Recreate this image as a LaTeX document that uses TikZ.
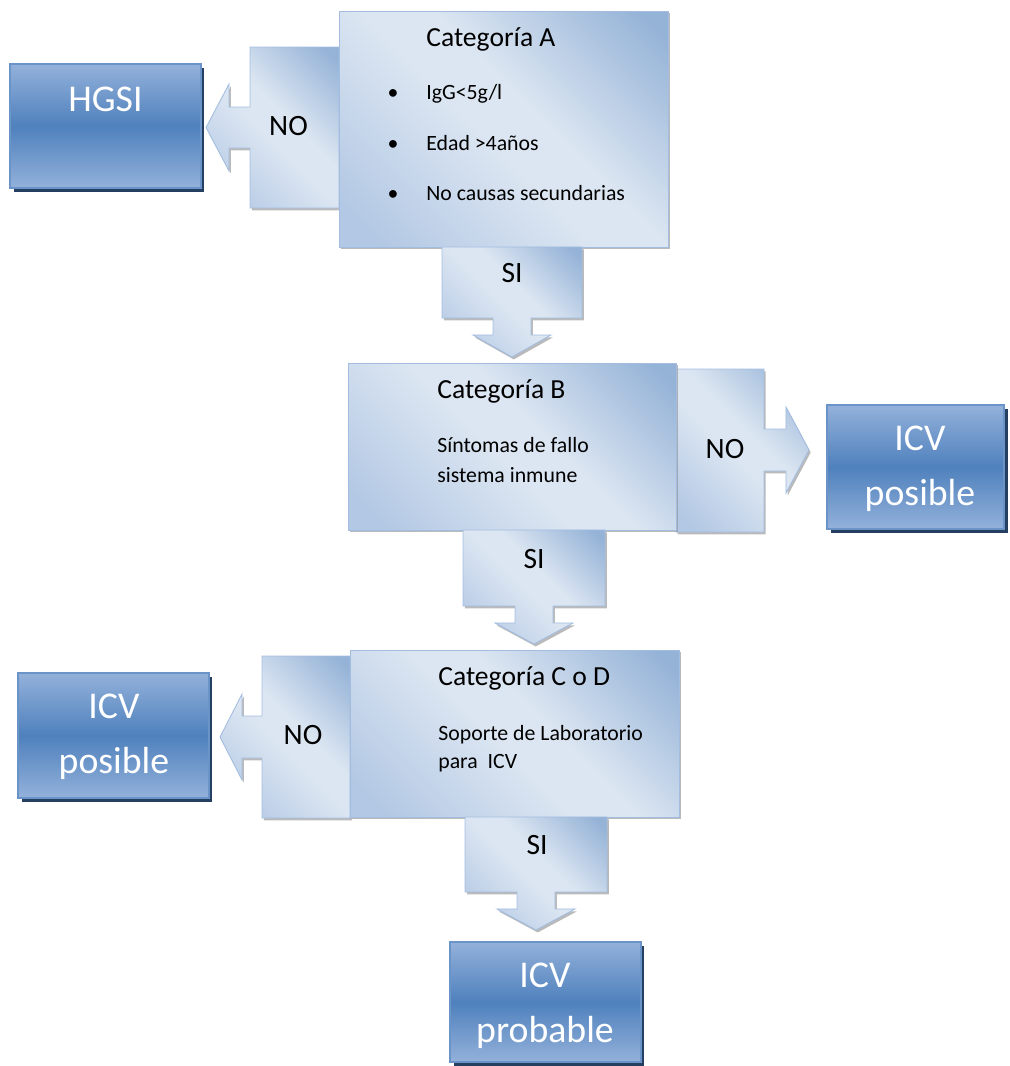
\documentclass[tikz,border=0pt]{standalone}
\usepackage{fontspec}
\setmainfont{Carlito}
\usetikzlibrary{shadows,backgrounds}

\definecolor{palelight}{HTML}{DCE6F2}
\definecolor{palemid}{HTML}{B3C8E4}
\definecolor{paledark}{HTML}{95B3D7}
\definecolor{paleedge}{HTML}{A3BDE0}
\definecolor{deeptop}{HTML}{93B1DA}
\definecolor{deepmid}{HTML}{4F81BD}
\definecolor{deepedge}{HTML}{6A93C8}
\definecolor{deepshadow}{HTML}{243F60}

\pgfdeclarehorizontalshading{paleblue}{100bp}{color(0bp)=(palemid); color(20bp)=(palemid); color(47bp)=(palelight); color(56bp)=(palelight); color(82bp)=(paledark); color(100bp)=(paledark)}
\pgfdeclareverticalshading{deepblue}{100bp}{color(0bp)=(deeptop); color(25bp)=(deeptop); color(50bp)=(deepmid); color(75bp)=(deeptop); color(100bp)=(deeptop)}

\begin{document}
\begin{tikzpicture}[x=0.02cm, y=-0.02cm,
    palebox/.style={draw=paleedge, line width=0.5pt, shade, shading=paleblue, shading angle=45,
        drop shadow={shadow xshift=1pt, shadow yshift=-1.4pt, fill=black!45, opacity=0.6}},
    catbox/.style={palebox, outer sep=0pt, inner sep=0pt},
    callout/.style={palebox},
    deepbox/.style={draw=deepedge, line width=0.6pt, shade, shading=deepblue, outer sep=0pt, inner sep=0pt,
        drop shadow={shadow xshift=2pt, shadow yshift=-2pt, fill=deepshadow, opacity=1}},
    cattitle/.style={inner sep=0pt, anchor=base west, font=\fontsize{15.7}{19}\selectfont},
    catline/.style={inner sep=0pt, anchor=base west, font=\fontsize{12.4}{15}\selectfont},
    answer/.style={inner sep=0pt, anchor=base, font=\fontsize{16.8}{20}\selectfont},
    result/.style={inner sep=0pt, anchor=base, text=white, font=\fontsize{21.5}{26}\selectfont}]
    \useasboundingbox (0,0) rectangle (1009,1066);

    % result boxes
    \node[deepbox, minimum width=3.82cm, minimum height=2.48cm] (hgsi) at (105.5,126) {};
    \node[deepbox, minimum width=3.54cm, minimum height=2.48cm] (icvB) at (915.5,467) {};
    \node[deepbox, minimum width=3.82cm, minimum height=2.5cm] (icvC) at (113.5,735.5) {};
    \node[deepbox, minimum width=3.82cm, minimum height=2.4cm] (icvD) at (545.5,1002) {};

    \node[result] (hgsiT) at (105.5,111) {HGSI};
    \node[result] (icvB1) at (920,450) {ICV};
    \node[result] (icvB2) at (920,505) {posible};
    \node[result] (icvC1) at (114,718) {ICV};
    \node[result] (icvC2) at (114,773) {posible};
    \node[result] (icvD1) at (545,987) {ICV};
    \node[result] (icvD2) at (545,1042) {probable};

    % categories
    \node[catbox, minimum width=6.58cm, minimum height=4.72cm] (catA) at (503.5,129) {};
    \node[catbox, minimum width=6.56cm, minimum height=3.34cm] (catB) at (512,446.5) {};
    \node[catbox, minimum width=6.58cm, minimum height=3.34cm] (catC) at (514.5,733.5) {};

    % NO callouts, behind the categories
    \begin{scope}[on background layer]
    \path[callout] (catA.west |- 0,47) -- ++(-89,0) -- ++(0,60) -- ++(-21,0) -- ++(0,-23) -- ++(-23,43.5)
        -- ++(23,43.5) -- ++(0,-23) -- ++(21,0) -- ++(0,60) -- ++(89,0) -- cycle;
    \path[callout] (catB.east |- 0,369) -- ++(88,0) -- ++(0,60) -- ++(22,0) -- ++(0,-22) -- ++(23,43)
        -- ++(-23,43) -- ++(0,-22) -- ++(-22,0) -- ++(0,61) -- ++(-88,0) -- cycle;
    \path[callout] (catC.west |- 0,656) -- ++(-88,0) -- ++(0,60) -- ++(-20,0) -- ++(0,-22) -- ++(-22,43)
        -- ++(22,43) -- ++(0,-22) -- ++(20,0) -- ++(0,60) -- ++(88,0) -- cycle;
    \end{scope}

    % SI callouts
    \path[callout] (catA.south -| 442,0) -- ++(0,71) -- ++(51,0) -- ++(0,17) -- ++(-20,0) -- ++(39,22)
        -- ++(39,-22) -- ++(-20,0) -- ++(0,-17) -- ++(51,0) -- ++(0,-71) -- cycle;
    \path[callout] (catB.south -| 463,0) -- ++(0,76) -- ++(52,0) -- ++(0,17) -- ++(-20,0) -- ++(39,21)
        -- ++(39,-21) -- ++(-20,0) -- ++(0,-17) -- ++(52,0) -- ++(0,-76) -- cycle;
    \path[callout] (catC.south -| 465,0) -- ++(0,75) -- ++(52,0) -- ++(0,17) -- ++(-20,0) -- ++(39,21)
        -- ++(39,-21) -- ++(-20,0) -- ++(0,-17) -- ++(52,0) -- ++(0,-75) -- cycle;

    \node[answer] (noA) at (288.5,135) {NO};
    \node[answer] (noB) at (725,458) {NO};
    \node[answer] (noC) at (303,744) {NO};
    \node[answer] (siA) at (512,282) {SI};
    \node[answer] (siB) at (534,568) {SI};
    \node[answer] (siC) at (537,854) {SI};

    % texts of the categories
    \node[cattitle] (titA) at (426,46) {Categoría A};
    \node[catline, anchor=base] (dotA1) at (393,99) {•};
    \node[catline] (lineA1) at (426,99) {IgG<5g/l};
    \node[catline, anchor=base] (dotA2) at (393,150) {•};
    \node[catline] (lineA2) at (426,150) {Edad >4años};
    \node[catline, anchor=base] (dotA3) at (393,200) {•};
    \node[catline] (lineA3) at (426,200) {No causas secundarias};

    \node[cattitle] (titB) at (437,398) {Categoría B};
    \node[catline] (lineB1) at (437,452) {Síntomas de fallo};
    \node[catline] (lineB2) at (437,482) {sistema inmune};

    \node[cattitle] (titC) at (438,685) {Categoría C o D};
    \node[catline] (lineC1) at (438,740) {Soporte de Laboratorio};
    \node[catline] (lineC2) at (438,768) {para\ \ ICV};
\end{tikzpicture}
\end{document}
